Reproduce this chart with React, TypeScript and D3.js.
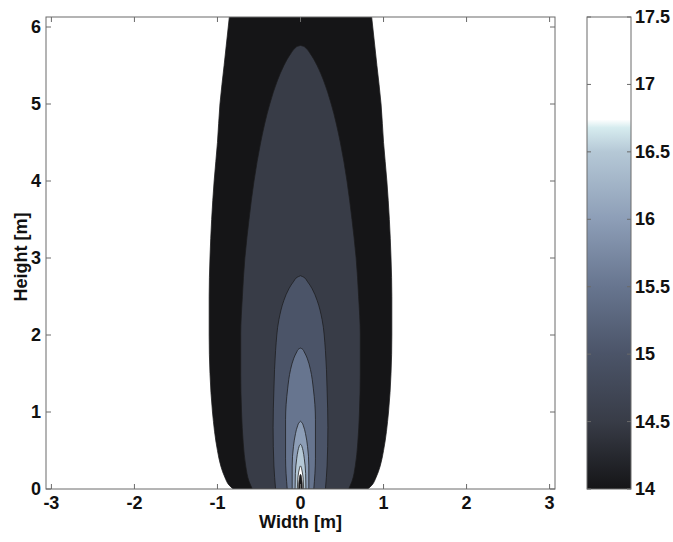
import React from 'react';
import * as d3 from 'd3';

// axis ticks
const xTicks = [-3, -2, -1, 0, 1, 2, 3];
const yTicks = [0, 1, 2, 3, 4, 5, 6];
const cbTicks = [14, 14.5, 15, 15.5, 16, 16.5, 17, 17.5];

// contour levels (filled region starts at this level)
const levels = [14, 14.5, 15, 15.5, 16, 16.5, 17, 17.5];

// contour outlines: height [m] and half width [m]
const h14 = [0, 0.05, 0.15, 0.3, 0.5, 1, 1.5, 2, 2.5, 3, 3.5, 4, 4.5, 5, 5.5, 6.3];
const w14 = [0.81, 0.86, 0.91, 0.96, 1.0, 1.06, 1.09, 1.1, 1.1, 1.09, 1.07, 1.04, 1.0, 0.97, 0.92, 0.84];
const h145 = [0, 0.1, 0.3, 0.6, 1, 1.5, 2, 2.5, 3, 3.5, 4, 4.5, 5, 5.3, 5.5, 5.65, 5.72, 5.75, 5.76];
const w145 = [0.58, 0.62, 0.66, 0.69, 0.71, 0.72, 0.72, 0.7, 0.67, 0.62, 0.56, 0.48, 0.37, 0.28, 0.2, 0.12, 0.07, 0.035, 0];
const h15 = [0, 0.3, 0.8, 1.3, 1.8, 2.2, 2.45, 2.6, 2.7, 2.75, 2.77];
const w15 = [0.3, 0.32, 0.33, 0.32, 0.3, 0.26, 0.2, 0.14, 0.08, 0.04, 0];
const h155 = [0, 0.4, 0.9, 1.3, 1.55, 1.7, 1.78, 1.82, 1.83];
const w155 = [0.16, 0.18, 0.18, 0.155, 0.12, 0.08, 0.045, 0.02, 0];
const h16 = [0, 0.3, 0.55, 0.72, 0.82, 0.865, 0.88];
const w16 = [0.1, 0.1, 0.085, 0.06, 0.035, 0.015, 0];
const h165 = [0, 0.2, 0.4, 0.5, 0.555, 0.575, 0.58];
const w165 = [0.065, 0.062, 0.045, 0.03, 0.016, 0.007, 0];
const h17 = [0, 0.12, 0.22, 0.27, 0.293, 0.3];
const w17 = [0.038, 0.033, 0.022, 0.012, 0.005, 0];
const h175 = [0, 0.08, 0.15, 0.18, 0.19];
const w175 = [0.022, 0.02, 0.012, 0.006, 0];

const contourH = [h14, h145, h15, h155, h16, h165, h17, h175];
const contourW = [w14, w145, w15, w155, w16, w165, w17, w175];

// bone-like colormap as seen on the colorbar
const cmapStops = [14, 14.5, 15, 15.5, 16, 16.5, 16.68, 16.74, 17.5];
const cmapColors = ['#151517', '#383c47', '#4b5468', '#67758f', '#8d9eb7', '#b5c8d6', '#d6ecef', '#ffffff', '#ffffff'];

const W = 673;
const H = 542;
const ml = 46, mr = 555, mt = 17, mb = 489;
const cbL = 587, cbR = 631;
const font = "'Liberation Sans', Arial, sans-serif";

export default function App() {
  const x = d3.scaleLinear().domain([-3.065, 3.065]).range([ml, mr]);
  const y = d3.scaleLinear().domain([0, 6.13]).range([mb, mt]);
  const cy = d3.scaleLinear().domain([14, 17.5]).range([mb, mt]);
  const cmap = d3.scaleLinear<string>().domain(cmapStops).range(cmapColors).clamp(true);

  const area = d3.area<{ h: number; w: number }>()
    .y(d => y(d.h))
    .x0(d => x(-d.w))
    .x1(d => x(d.w))
    .curve(d3.curveMonotoneY);

  const regions = levels.map((lv, i) => ({
    level: lv,
    d: area(contourH[i].map((h, j) => ({ h, w: contourW[i][j] }))) || '',
    // the tiny core above the top level shows up dark in the scan
    fill: lv >= 17.5 ? '#1c1c1e' : cmap(lv),
  }));

  const tick = 5;
  const axisColor = '#6a6a6a';

  return (
    <svg width={W} height={H} style={{ position: 'absolute', left: 0, top: 0, background: '#fff' }}
      fontFamily={font}>
      <defs>
        <clipPath id="plotclip">
          <rect x={ml} y={mt} width={mr - ml} height={mb - mt} />
        </clipPath>
        <linearGradient id="cbgrad" x1="0" y1="1" x2="0" y2="0">
          {cmapStops.map((v, i) => (
            <stop key={i} offset={(v - 14) / 3.5} stopColor={cmapColors[i]} />
          ))}
        </linearGradient>
      </defs>

      <g clipPath="url(#plotclip)">
        {regions.map((r, i) => (
          <path key={i} d={r.d} fill={r.fill} stroke="#1b1b1d" strokeWidth={0.9} strokeOpacity={0.85} />
        ))}
      </g>

      {/* frame */}
      <rect x={ml} y={mt} width={mr - ml} height={mb - mt} fill="none" stroke={axisColor} strokeWidth={1} />
      {xTicks.map(t => (
        <g key={'xt' + t}>
          <line x1={x(t)} x2={x(t)} y1={mb} y2={mb - tick} stroke={axisColor} />
          <line x1={x(t)} x2={x(t)} y1={mt} y2={mt + tick} stroke={axisColor} />
          <text x={x(t)} y={509} textAnchor="middle" fontSize={18} fontWeight="bold" fill="#111">{t}</text>
        </g>
      ))}
      {yTicks.map(t => (
        <g key={'yt' + t}>
          <line x1={ml} x2={ml + tick} y1={y(t)} y2={y(t)} stroke={axisColor} />
          <line x1={mr} x2={mr - tick} y1={y(t)} y2={y(t)} stroke={axisColor} />
          <text x={41} y={y(t) + 6} textAnchor="end" fontSize={18} fontWeight="bold" fill="#111">{t}</text>
        </g>
      ))}
      <text x={(ml + mr) / 2} y={528} textAnchor="middle" fontSize={18} fontWeight="bold" fill="#111">Width [m]</text>
      <text transform={`translate(27,${(mt + mb) / 2 + 4}) rotate(-90)`} textAnchor="middle" fontSize={18}
        fontWeight="bold" fill="#111">Height [m]</text>

      {/* colorbar */}
      <rect x={cbL} y={mt} width={cbR - cbL} height={mb - mt} fill="url(#cbgrad)" />
      <rect x={cbL} y={mt} width={cbR - cbL} height={mb - mt} fill="none" stroke={axisColor} strokeWidth={1} />
      {cbTicks.map(t => (
        <g key={'ct' + t}>
          <line x1={cbL} x2={cbL + 4} y1={cy(t)} y2={cy(t)} stroke={axisColor} />
          <line x1={cbR} x2={cbR - 4} y1={cy(t)} y2={cy(t)} stroke={axisColor} />
          <text x={635} y={cy(t) + 6} fontSize={18} fontWeight="bold" fill="#111">{t}</text>
        </g>
      ))}
    </svg>
  );
}
